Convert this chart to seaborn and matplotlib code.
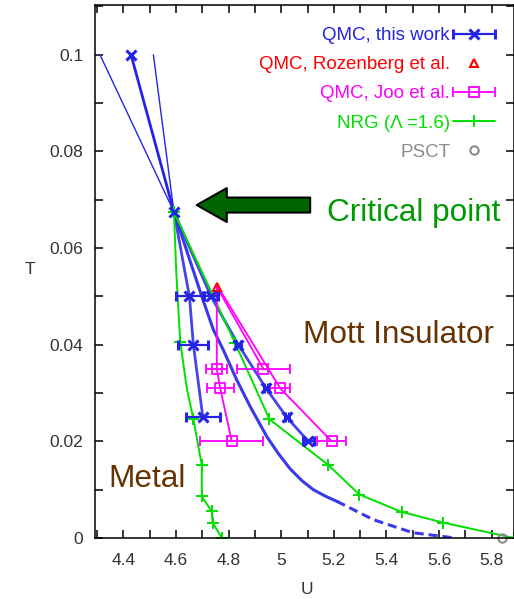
import matplotlib
matplotlib.use("Agg")
import matplotlib.pyplot as plt
import seaborn as sns
from matplotlib.container import ErrorbarContainer
from matplotlib.legend_handler import HandlerErrorbar
from matplotlib.lines import Line2D
from matplotlib.ticker import MultipleLocator

sns.set_style("ticks")
plt.rcParams["font.family"] = ["Liberation Sans", "DejaVu Sans"]

# ---------------- data ----------------
crit_U, crit_T = 4.592, 0.0675

# QMC, this work (blue)
cross_mid_U = [4.429, crit_U]
cross_lo_U = [4.311, crit_U]
cross_hi_U = [4.514, crit_U]
cross_T = [0.100, crit_T]

uc1_U = [crit_U, 4.651, 4.666, 4.702]
uc1_T = [crit_T, 0.050, 0.040, 0.025]

uc2_U = [crit_U, 4.733, 4.837, 4.942, 5.021, 5.103]
uc2_T = [crit_T, 0.050, 0.040, 0.031, 0.025, 0.020]

uc_U = [crit_U, 4.698, 4.742, 4.780, 4.831, 4.882, 4.945, 4.990, 5.034, 5.080, 5.122, 5.170, 5.211]
uc_T = [crit_T, 0.050, 0.0431, 0.0389, 0.0327, 0.0272, 0.0210, 0.0174, 0.0143, 0.0118, 0.0100, 0.0086, 0.0076]

ucd_U = [5.211, 5.350, 5.500, 5.660]
ucd_T = [0.0076, 0.0038, 0.0011, 0.0000]

qmc_U = [4.651, 4.733, 4.666, 4.837, 4.702, 4.942, 5.021, 5.103]
qmc_T = [0.050, 0.050, 0.040, 0.040, 0.025, 0.031, 0.025, 0.020]
qmc_err = [0.050, 0.025, 0.057, 0.010, 0.065, 0.008, 0.008, 0.020]
qmc_plain_U = [4.429, crit_U]
qmc_plain_T = [0.100, crit_T]

# QMC, Rozenberg et al. (red)
roz_U = [4.755]
roz_T = [0.052]

# QMC, Joo et al. (magenta)
joo_U = [4.755, 4.932, 4.768, 4.996, 4.812, 5.192]
joo_T = [0.035, 0.035, 0.031, 0.031, 0.020, 0.020]
joo_err = [0.040, 0.100, 0.052, 0.038, 0.120, 0.055]
joo_left_U = [4.755, 4.755, 4.768, 4.812]
joo_left_T = [0.052, 0.035, 0.031, 0.020]
joo_a_U = [4.755, 4.932]
joo_a_T = [0.052, 0.035]
joo_b_U = [4.765, 4.996, 5.192]
joo_b_T = [0.0515, 0.031, 0.020]

# NRG (green)
nrg_left_U = [crit_U, 4.601, 4.616, 4.641, 4.666, 4.698, 4.698, 4.736, 4.739, 4.774]
nrg_left_T = [crit_T, 0.055, 0.0406, 0.031, 0.0246, 0.0151, 0.0086, 0.0055, 0.0032, 0.0]
nrg_left_mU = [crit_U, 4.616, 4.666, 4.698, 4.698, 4.736, 4.739, 4.774]
nrg_left_mT = [crit_T, 0.0406, 0.0246, 0.0151, 0.0086, 0.0055, 0.0032, 0.0]
nrg_right_U = [crit_U, 4.825, 4.955, 5.179, 5.297, 5.458, 5.614, 5.885]
nrg_right_T = [crit_T, 0.0403, 0.0246, 0.0151, 0.0090, 0.0054, 0.0032, 0.0]

# PSCT (gray)
psct_U = [5.838]
psct_T = [0.0]

x_ticks = [4.4, 4.6, 4.8, 5.0, 5.2, 5.4, 5.6, 5.8]
x_labels = ["4.4", "4.6", "4.8", "5", "5.2", "5.4", "5.6", "5.8"]
y_ticks = [0.0, 0.02, 0.04, 0.06, 0.08, 0.10]
y_labels = ["0", "0.02", "0.04", "0.06", "0.08", "0.1"]

# ---------------- style ----------------
blue = "#2424e6"
green = "#00e000"
magenta = "#ff00ff"
red = "#ff0000"
gray = "#8c8c8c"
brown = "#663300"

fig = plt.figure(figsize=(5.14, 5.99), dpi=100)
ax = fig.add_axes([95 / 514, 61 / 599, 419 / 514, 533 / 599])

def line(U, T, color, lw, **kw):
    sns.lineplot(x=U, y=T, sort=False, estimator=None, color=color,
                 linewidth=lw, ax=ax, **kw)

# blue lines
line(cross_lo_U, cross_T, blue, 1.0)
line(cross_hi_U, cross_T, blue, 1.0)
line(cross_mid_U, cross_T, blue, 2.0)
line(uc1_U, uc1_T, blue, 2.0, alpha=0.85)
line(uc2_U, uc2_T, blue, 2.0, alpha=0.85)
line(uc_U, uc_T, blue, 2.2, alpha=0.9)
line(ucd_U, ucd_T, blue, 2.2, alpha=0.9, linestyle=(0, (3, 1.6)))

# green lines
line(nrg_left_U, nrg_left_T, green, 1.4)
line(nrg_right_U, nrg_right_T, green, 1.4)

# magenta lines
line(joo_left_U, joo_left_T, magenta, 1.3)
line(joo_a_U, joo_a_T, magenta, 1.3)
line(joo_b_U, joo_b_T, magenta, 1.3)

# markers
ax.plot(nrg_left_mU, nrg_left_mT, "+", color=green, ms=8, mew=1.4, ls="none")
ax.plot(nrg_right_U, nrg_right_T, "+", color=green, ms=8, mew=1.4, ls="none")

joo_eb = ax.errorbar(joo_U, joo_T, xerr=joo_err, fmt="s", color=magenta, ms=7,
                     mfc="none", mew=1.3, elinewidth=1.3, capsize=3.6, capthick=1.3)
qmc_eb = ax.errorbar(qmc_U, qmc_T, xerr=qmc_err, fmt="x", color=blue, ms=7,
                     mew=2.2, elinewidth=1.6, capsize=3.6, capthick=1.6)
ax.plot(qmc_plain_U, qmc_plain_T, "x", color=blue, ms=7, mew=2.2, ls="none")
roz_ln, = ax.plot(roz_U, roz_T, "^", color=red, ms=6, mfc="none", mew=1.5, ls="none")
psct_ln, = ax.plot(psct_U, psct_T, "o", color=gray, ms=6, mfc="none", mew=1.5,
                   ls="none", clip_on=False)

# ---------------- axes ----------------
ax.set_xlim(4.292, 5.885)
ax.set_ylim(0, 0.1103)
ax.set_xticks(x_ticks)
ax.set_xticklabels(x_labels)
ax.set_yticks(y_ticks)
ax.set_yticklabels(y_labels)
ax.xaxis.set_minor_locator(MultipleLocator(0.1))
ax.yaxis.set_minor_locator(MultipleLocator(0.01))
ax.tick_params(which="both", direction="in", top=True, right=True,
               length=5.8, width=1.1, color="black")
ax.tick_params(axis="x", which="major", pad=11, labelsize=12.5, labelcolor="#333333")
ax.tick_params(axis="y", which="major", pad=8.5, labelsize=12.5, labelcolor="#333333")
for s in ax.spines.values():
    s.set_visible(True)
    s.set_color("black")
    s.set_linewidth(1.1)

ax.set_xlabel("U", fontsize=12.5, color="#333333")
ax.xaxis.set_label_coords(0.506, -0.0957)
ax.xaxis.label.set_verticalalignment("center")
ax.set_ylabel("T", fontsize=12.5, color="#333333", rotation=0)
ax.yaxis.set_label_coords(-0.155, 0.503)
ax.yaxis.label.set_verticalalignment("center")
ax.yaxis.label.set_horizontalalignment("center")

# ---------------- annotations ----------------
ax.text(5.173, 0.0655, "Critical point", color="#009900", fontsize=22.7,
        ha="left", va="baseline")
ax.text(5.084, 0.0403, "Mott Insulator", color=brown, fontsize=22.7,
        ha="left", va="baseline")
ax.text(4.341, 0.0106, "Metal", color=brown, fontsize=22.7,
        ha="left", va="baseline")
ax.annotate("", xy=(4.679, 0.0689), xytext=(5.110, 0.0689),
            arrowprops=dict(arrowstyle="simple,head_length=1.08,head_width=1.22,tail_width=0.54",
                            fc="#006600", ec="black", lw=1.5, shrinkA=0, shrinkB=0,
                            mutation_scale=20))

# ---------------- legend ----------------
nrg_proxy = Line2D([], [], color=green, lw=1.4, marker="+", ms=9, mew=1.4)
handles = [qmc_eb, roz_ln, joo_eb, nrg_proxy, psct_ln]
labels = ["QMC, this work", "QMC, Rozenberg et al.", "QMC, Joo et al.",
          "NRG (\u039b =1.6)", "PSCT"]
leg = ax.legend(handles, labels, loc="upper right", frameon=False,
                markerfirst=False, fontsize=13.5, handlelength=2.24,
                handletextpad=0.16, labelspacing=0.64, borderpad=0,
                borderaxespad=0, numpoints=1,
                bbox_to_anchor=(495 / 514, 1 - 27 / 599),
                bbox_transform=fig.transFigure,
                handler_map={ErrorbarContainer: HandlerErrorbar(xerr_size=1.12)})
for t, c in zip(leg.get_texts(), [blue, red, magenta, green, gray]):
    t.set_color(c)

fig.savefig("out.png", dpi=100)
